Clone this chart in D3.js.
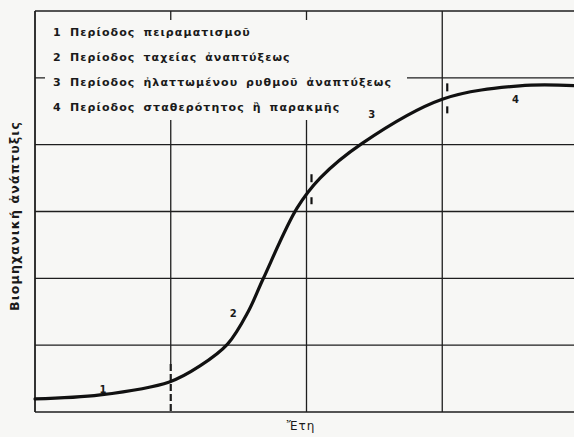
<!DOCTYPE html>
<html>
<head>
<meta charset="utf-8">
<script src="https://cdn.jsdelivr.net/npm/d3@7"></script>
<style>
  body { margin: 0; background: #f7f7f5; }
  svg { display: block; }
  .grid line { stroke: #1e1e1e; stroke-width: 1.3; }
  .legend text, .label { font-family: "DejaVu Sans", sans-serif; font-weight: bold; fill: #1a1a1a; }
</style>
</head>
<body>
<div id="chart"></div>
<script>
// Chart size and margins
const W = 574, H = 437;
const margin = { top: 11, right: -4, bottom: 25, left: 35 };

// Curve values (years, industrial growth index)
const years  = [0, 4.8, 9.9, 12.15, 14.2, 15.7, 16.8, 19.3, 21.0, 24.1, 30.0, 35.7, 40];
const growth = [1.95, 2.55, 4.5, 6.9, 10.2, 15.0, 19.9, 30.5, 35.0, 40.2, 46.8, 48.8, 48.8];

// Grid ticks
const xGrid = [10, 20, 30];
const yGrid = [10, 20, 30, 40, 50];

// Period boundaries and labels
const boundaries = [10, 20, 30];
const periodNums = ["1", "2", "3", "4"];
const periodLabelX = [5, 14.6, 24.8, 35.4];
const periodLabelY = [3.3, 14.8, 44.5, 46.8];
const legendItems = [
  "Περίοδος πειραματισμοῦ",
  "Περίοδος ταχείας ἀναπτύξεως",
  "Περίοδος ἠλαττωμένου ρυθμοῦ ἀναπτύξεως",
  "Περίοδος σταθερότητος ἢ παρακμῆς"
];
const yTitle = "Βιομηχανική ἀνάπτυξις";
const xTitle = "Ἔτη";

const width = W - margin.left - margin.right;
const height = H - margin.top - margin.bottom;

const x = d3.scaleLinear().domain([0, 40]).range([0, width]);
const y = d3.scaleLinear().domain([0, 60]).range([height, 0]);

const svg = d3.select("#chart")
    .append("svg")
        .attr("width", W)
        .attr("height", H)
    .append("g")
        .attr("transform", `translate(${margin.left},${margin.top})`)
;

// Grid + frame
const grid = svg.append("g").attr("class", "grid");
grid.selectAll("line.h")
    .data([0, ...yGrid, 60])
    .join("line")
        .attr("class", "h")
        .attr("x1", 0).attr("x2", width)
        .attr("y1", d => y(d)).attr("y2", d => y(d))
        .style("stroke-width", d => (d === 0 || d === 60) ? 1.6 : 1.3)
;
grid.append("line")
    .attr("x1", 0).attr("x2", 0)
    .attr("y1", 0).attr("y2", height)
    .style("stroke-width", 1.8)
;
// vertical grid lines; the first boundary turns dashed below the curve
grid.selectAll("line.v")
    .data(xGrid)
    .join("line")
        .attr("class", "v")
        .attr("x1", d => x(d)).attr("x2", d => x(d))
        .attr("y1", 0)
        .attr("y2", (d, i) => i === 0 ? y(7.2) : height)
;
grid.append("line")
    .attr("x1", x(boundaries[0])).attr("x2", x(boundaries[0]))
    .attr("y1", y(7.2)).attr("y2", height)
    .style("stroke-width", 2.2)
    .style("stroke-dasharray", "7,3")
;

// Legend area covers the grid
const legend = svg.append("g").attr("class", "legend");
legend.append("rect")
    .attr("x", 10)
    .attr("y", 9)
    .attr("width", 362)
    .attr("height", 100)
    .attr("fill", "#f7f7f5")
;
const items = legend.selectAll("g.item")
    .data(legendItems)
    .join("g")
        .attr("class", "item")
        .attr("transform", (d, i) => `translate(0,${21 + i * 25})`)
;
items.append("text")
    .attr("x", 18)
    .attr("dy", "0.35em")
    .style("font-size", "11px")
    .text((d, i) => periodNums[i]);
items.append("text")
    .attr("x", 35)
    .attr("dy", "0.35em")
    .style("font-size", "11px")
    .style("letter-spacing", "1.1px")
    .style("word-spacing", "3px")
    .text(d => d);

// S-curve
const line = d3.line()
    .x(d => x(d[0]))
    .y(d => y(d[1]))
    .curve(d3.curveCatmullRom.alpha(0.5))
;
svg.append("path")
    .datum(d3.zip(years, growth))
    .attr("d", line)
    .attr("fill", "none")
    .attr("stroke", "#111")
    .attr("stroke-width", 3.2)
    .attr("stroke-linecap", "round")
;

// Small boundary ticks at the 2nd and 3rd boundaries
const interp = v => {
  const i = d3.bisectLeft(years, v);
  if (i <= 0) return growth[0];
  const t = (v - years[i - 1]) / (years[i] - years[i - 1]);
  return growth[i - 1] + t * (growth[i] - growth[i - 1]);
};
boundaries.slice(1).forEach(b => {
  const cx = x(b) + 5;
  const cy = y(interp(b + 0.37));
  [[-15, -7], [8, 15]].forEach(([a, c]) => {
    svg.append("line")
        .attr("x1", cx).attr("x2", cx)
        .attr("y1", cy + a).attr("y2", cy + c)
        .attr("stroke", "#111")
        .attr("stroke-width", 2.2);
  });
});

// Period numbers along the curve
svg.selectAll("text.period")
    .data(periodNums)
    .join("text")
        .attr("class", "label period")
        .attr("x", (d, i) => x(periodLabelX[i]))
        .attr("y", (d, i) => y(periodLabelY[i]))
        .attr("text-anchor", "middle")
        .attr("dy", "0.35em")
        .style("font-size", "10px")
        .text(d => d)
;

// Axis titles
svg.append("text")
    .attr("class", "label")
    .attr("transform", `translate(${-20},${height / 2 + 4.5}) rotate(-90)`)
    .attr("text-anchor", "middle")
    .attr("dy", "0.35em")
    .style("font-size", "12.5px")
    .style("letter-spacing", "1.2px")
    .text(yTitle)
;
svg.append("text")
    .attr("class", "label")
    .attr("x", x(19.6))
    .attr("y", height + 14)
    .attr("text-anchor", "middle")
    .attr("dy", "0.35em")
    .style("font-size", "12px")
    .style("font-weight", "normal")
    .style("letter-spacing", "1px")
    .text(xTitle)
;
</script>
</body>
</html>
